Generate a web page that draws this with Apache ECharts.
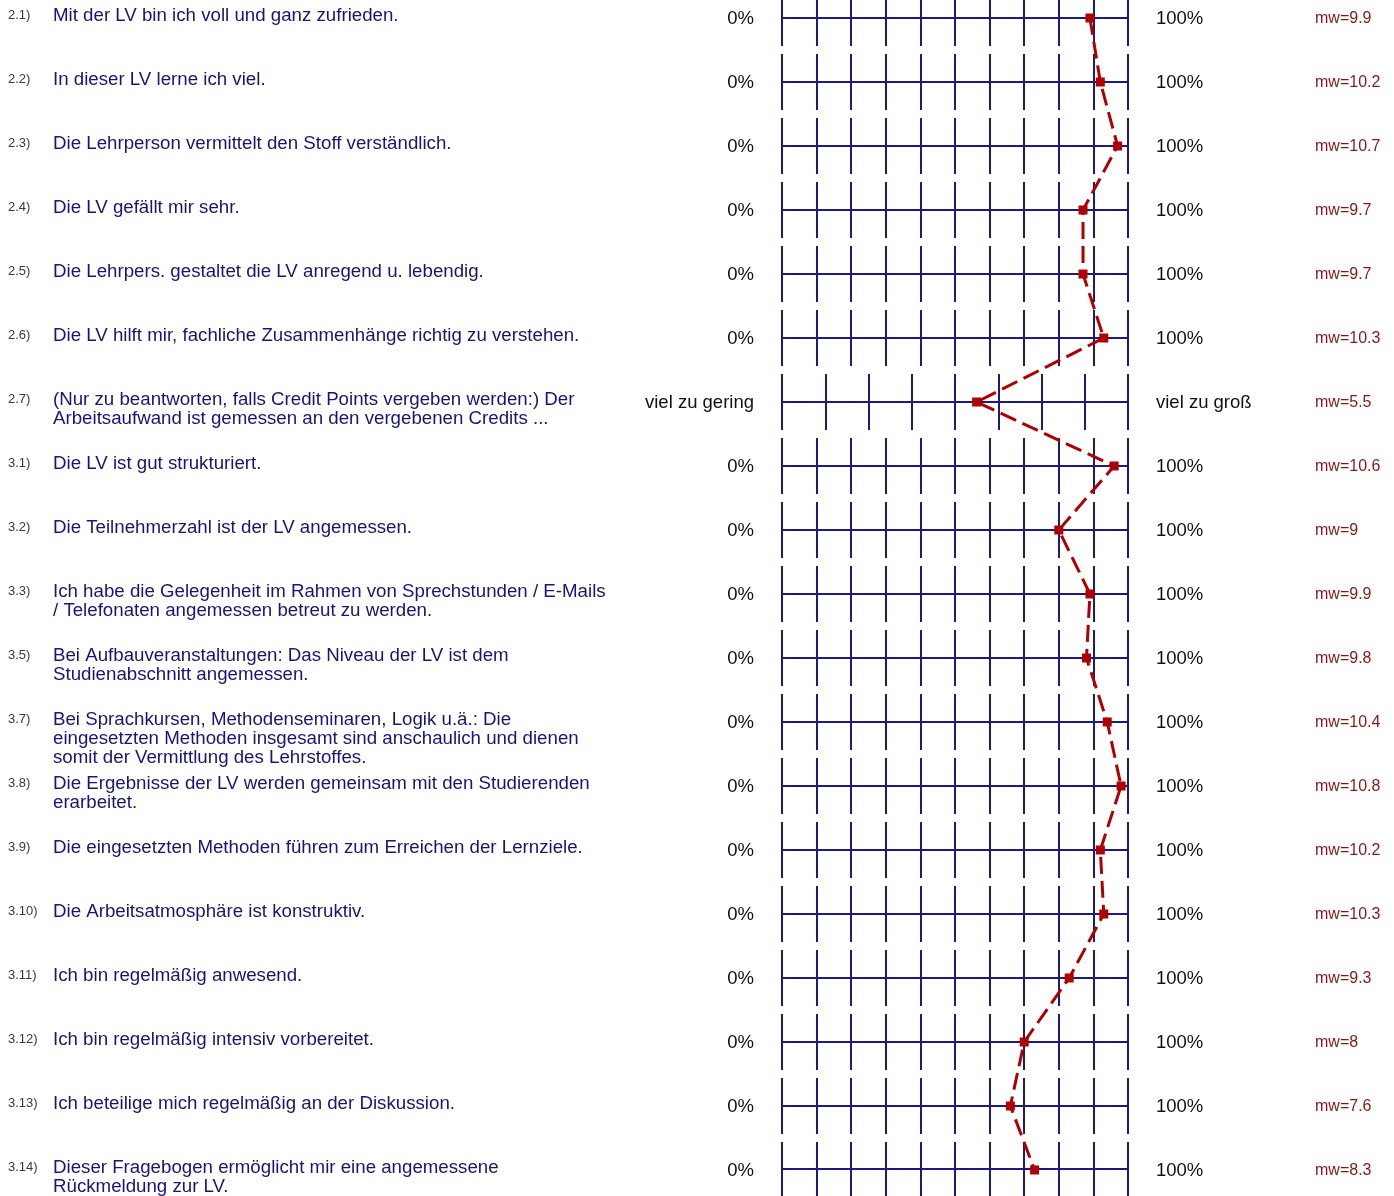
<!DOCTYPE html>
<html>
<head>
<meta charset="utf-8">
<script src="https://cdn.jsdelivr.net/npm/echarts@6/dist/echarts.min.js"></script>
<style>
html,body{margin:0;padding:0;background:#fff;}
#chart{width:1394px;height:1196px;}
</style>
</head>
<body>
<div id="chart"></div>
<script>
const codes = ['2.1)','2.2)','2.3)','2.4)','2.5)','2.6)','2.7)','3.1)','3.2)','3.3)','3.5)','3.7)','3.8)','3.9)','3.10)','3.11)','3.12)','3.13)','3.14)'];
const questions = [
  'Mit der LV bin ich voll und ganz zufrieden.',
  'In dieser LV lerne ich viel.',
  'Die Lehrperson vermittelt den Stoff verständlich.',
  'Die LV gefällt mir sehr.',
  'Die Lehrpers. gestaltet die LV anregend u. lebendig.',
  'Die LV hilft mir, fachliche Zusammenhänge richtig zu verstehen.',
  '(Nur zu beantworten, falls Credit Points vergeben werden:) Der\nArbeitsaufwand ist gemessen an den vergebenen Credits ...',
  'Die LV ist gut strukturiert.',
  'Die Teilnehmerzahl ist der LV angemessen.',
  'Ich habe die Gelegenheit im Rahmen von Sprechstunden / E-Mails\n/ Telefonaten angemessen betreut zu werden.',
  'Bei Aufbauveranstaltungen: Das Niveau der LV ist dem\nStudienabschnitt angemessen.',
  'Bei Sprachkursen, Methodenseminaren, Logik u.ä.: Die\neingesetzten Methoden insgesamt sind anschaulich und dienen\nsomit der Vermittlung des Lehrstoffes.',
  'Die Ergebnisse der LV werden gemeinsam mit den Studierenden\nerarbeitet.',
  'Die eingesetzten Methoden führen zum Erreichen der Lernziele.',
  'Die Arbeitsatmosphäre ist konstruktiv.',
  'Ich bin regelmäßig anwesend.',
  'Ich bin regelmäßig intensiv vorbereitet.',
  'Ich beteilige mich regelmäßig an der Diskussion.',
  'Dieser Fragebogen ermöglicht mir eine angemessene\nRückmeldung zur LV.'
];
const leftAnchors = ['0%','0%','0%','0%','0%','0%','viel zu gering','0%','0%','0%','0%','0%','0%','0%','0%','0%','0%','0%','0%'];
const rightAnchors = ['100%','100%','100%','100%','100%','100%','viel zu groß','100%','100%','100%','100%','100%','100%','100%','100%','100%','100%','100%','100%'];
const meanValues = [9.9,10.2,10.7,9.7,9.7,10.3,5.5,10.6,9,9.9,9.8,10.4,10.8,10.2,10.3,9.3,8,7.6,8.3];
const meanLabels = ['mw=9.9','mw=10.2','mw=10.7','mw=9.7','mw=9.7','mw=10.3','mw=5.5','mw=10.6','mw=9','mw=9.9','mw=9.8','mw=10.4','mw=10.8','mw=10.2','mw=10.3','mw=9.3','mw=8','mw=7.6','mw=8.3'];
// number of scale points per item (scale runs 1..n)
const scaleSteps = [11,11,11,11,11,11,9,11,11,11,11,11,11,11,11,11,11,11,11];

const NAVY = '#1b1b7d';
const RED = '#b00000';
const FONT = '"Liberation Sans", Arial, sans-serif';
const ROW0 = 18, ROWH = 64, HALF = 28, LEFT = 782, WIDTH = 346;
const n = codes.length;

const grids = [], xAxes = [], yAxes = [];
for (let i = 0; i < n; i++) {
  const cy = ROW0 + ROWH * i;
  const top = Math.max(0, cy - HALF);
  grids.push({left: LEFT, width: WIDTH, top: top, height: cy + HALF - top});
  xAxes.push({
    type: 'value', gridIndex: i, min: 1, max: scaleSteps[i], interval: 1,
    axisLabel: {show: false}, axisTick: {show: false},
    axisLine: {show: true, onZero: true, lineStyle: {color: NAVY, width: 2}},
    splitLine: {show: true, lineStyle: {color: NAVY, width: 2}}
  });
  yAxes.push({
    type: 'value', gridIndex: i, min: -1, max: (cy - top) / HALF, show: false,
    splitLine: {show: false}
  });
}
// overlay grid for the profile line and texts
grids.push({left: LEFT, width: WIDTH, top: ROW0, height: ROWH * (n - 1)});
xAxes.push({type: 'value', gridIndex: n, min: 0, max: 1, show: false, splitLine: {show: false}});
yAxes.push({type: 'value', gridIndex: n, min: 0, max: n - 1, inverse: true, show: false, splitLine: {show: false}});

const lineData = meanValues.map((v, i) => [(v - 1) / (scaleSteps[i] - 1), i]);
const textData = codes.map((c, i) => [0, i]);

const chart = echarts.init(document.getElementById('chart'), null, {renderer: 'canvas'});
chart.setOption({
  animation: false,
  backgroundColor: '#ffffff',
  grid: grids,
  xAxis: xAxes,
  yAxis: yAxes,
  series: [
    {
      type: 'custom', xAxisIndex: n, yAxisIndex: n, clip: false, silent: true,
      data: textData,
      renderItem: function (params, api) {
        const i = params.dataIndex;
        const cy = api.coord([0, api.value(1)])[1];
        return {
          type: 'group',
          children: [
            {type: 'text', style: {text: codes[i], x: 8, y: cy - 3, fontSize: 13, fontFamily: FONT, fill: '#3a3a3a', verticalAlign: 'middle', align: 'left'}},
            {type: 'text', style: {text: questions[i], x: 53, y: cy - 12, fontSize: 18.7, lineHeight: 19, fontFamily: FONT, fill: '#15157a', verticalAlign: 'top', align: 'left'}},
            {type: 'text', style: {text: leftAnchors[i], x: 754, y: cy + 0.5, fontSize: 18.5, fontFamily: FONT, fill: '#111111', verticalAlign: 'middle', align: 'right'}},
            {type: 'text', style: {text: rightAnchors[i], x: 1156, y: cy + 0.5, fontSize: 18.5, fontFamily: FONT, fill: '#111111', verticalAlign: 'middle', align: 'left'}},
            {type: 'text', style: {text: meanLabels[i], x: 1315, y: cy + 1, fontSize: 16, fontFamily: FONT, fill: '#8b1515', verticalAlign: 'middle', align: 'left'}}
          ]
        };
      }
    },
    {
      type: 'line', xAxisIndex: n, yAxisIndex: n, data: lineData, z: 5,
      symbol: 'rect', symbolSize: 9, showSymbol: true,
      lineStyle: {color: RED, width: 3, type: [17, 7]},
      itemStyle: {color: RED}
    }
  ]
});
</script>
</body>
</html>
